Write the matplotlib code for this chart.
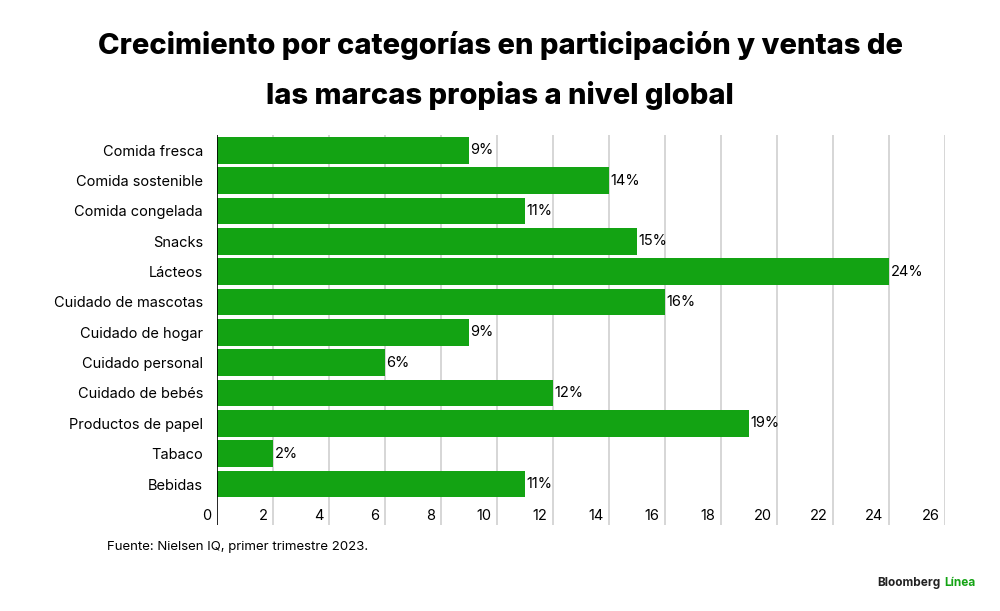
import matplotlib
matplotlib.use("Agg")
import matplotlib.pyplot as plt

categories = ["Comida fresca", "Comida sostenible", "Comida congelada", "Snacks",
              "Lácteos", "Cuidado de mascotas", "Cuidado de hogar", "Cuidado personal",
              "Cuidado de bebés", "Productos de papel", "Tabaco", "Bebidas"]
values = [9, 14, 11, 15, 24, 16, 9, 6, 12, 19, 2, 11]
ticks = list(range(0, 27, 2))

GREEN = "#13A313"
plt.rcParams["font.family"] = ["Inter", "DejaVu Sans"]

fig = plt.figure(figsize=(10, 6.11), dpi=100)
ax = fig.add_axes([0.217, 1 - 525 / 611, 0.728, (525 - 135) / 611])

ypos = list(range(len(categories)))
ax.barh(ypos, values, height=0.88, color=GREEN, zorder=2)
for y, v in zip(ypos, values):
    ax.text(v + 0.05, y, "{0}%".format(v), va="center", ha="left", fontsize=10.5, zorder=3)

for t in ticks[1:]:
    ax.axvline(t, color="#d0d0d0", lw=1.2, zorder=1)
    ax.text(t - 0.2, 12.05, str(t), ha="right", va="center", fontsize=10.5)
ax.axvline(0, color="black", lw=1.2, zorder=3)
ax.text(-0.2, 12.05, "0", ha="right", va="center", fontsize=10.5)

ax.set_xlim(0, 26)
ax.set_ylim(12.35, -0.5)
ax.set_xticks([])
ax.set_yticks(ypos)
ax.set_yticklabels(categories, fontsize=10.5)
ax.tick_params(axis="y", length=0, pad=10)
for s in ax.spines.values():
    s.set_visible(False)

fig.text(0.5, 1 - 45 / 611, "Crecimiento por categorías en participación y ventas de",
         ha="center", va="center", fontsize=21, fontweight="heavy")
fig.text(0.5, 1 - 95 / 611, "las marcas propias a nivel global",
         ha="center", va="center", fontsize=21, fontweight="heavy")
fig.text(0.107, 1 - 547 / 611, "Fuente: Nielsen IQ, primer trimestre 2023.",
         ha="left", va="center", fontsize=9.5)
fig.text(0.940, 1 - 583 / 611, "Bloomberg", ha="right", va="center", fontsize=8.5,
         fontweight="bold", color="#222222")
fig.text(0.944, 1 - 583 / 611, "Línea", ha="left", va="center", fontsize=8.5,
         fontweight="bold", color=GREEN)

fig.savefig("out.png", dpi=100)
